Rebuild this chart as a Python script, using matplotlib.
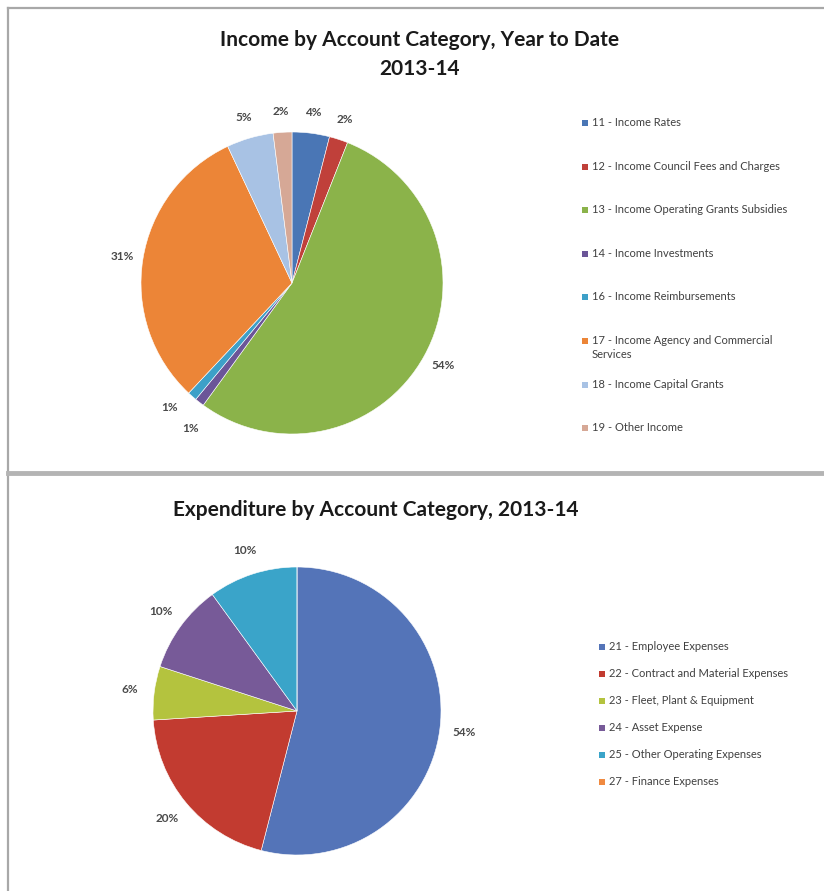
import matplotlib.pyplot as plt
from matplotlib.lines import Line2D
from matplotlib.patches import Rectangle

W, H = 824, 891

income_labels = [
    "11 - Income Rates",
    "12 - Income Council Fees and Charges",
    "13 - Income Operating Grants Subsidies",
    "14 - Income Investments",
    "16 - Income Reimbursements",
    "17 - Income Agency and Commercial\nServices",
    "18 - Income Capital Grants",
    "19 - Other Income",
]
income_pct = [4, 2, 54, 1, 1, 31, 5, 2]
income_colors = ["#4A76B5", "#C0403A", "#8BB34A", "#6B5598",
                 "#3DA0C8", "#EC8537", "#A8C2E4", "#D6A896"]

expense_labels = [
    "21 - Employee Expenses",
    "22 - Contract and Material Expenses",
    "23 - Fleet, Plant & Equipment",
    "24 - Asset Expense",
    "25 - Other Operating Expenses",
    "27 - Finance Expenses",
]
expense_pct = [54, 20, 6, 10, 10, 0]
expense_colors = ["#5474B8", "#C23B30", "#B4C33E", "#775A98",
                  "#3AA4C9", "#F08A40"]

plt.rcParams["font.family"] = ["Lato", "DejaVu Sans"]
TEXT = "#404040"


def fx(x):
    return x / W


def fy(y):
    return 1 - y / H


def pct_label(p):
    return f"{p:.0f}%" if p > 0 else ""


def draw_pie(fig, cx, cy, r, values, colors, pctdist):
    ax = fig.add_axes([fx(cx - r), fy(cy + r), 2 * r / W, 2 * r / H])
    _, _, autotexts = ax.pie(
        values,
        colors=colors,
        startangle=90,
        counterclock=False,
        autopct=pct_label,
        pctdistance=pctdist,
        wedgeprops=dict(edgecolor="white", linewidth=0.4),
        textprops=dict(fontsize=8.5, color="#4A4A4A", fontweight="bold"),
    )
    ax.set_xlim(-1, 1)
    ax.set_ylim(-1, 1)
    return ax, autotexts


def draw_legend(fig, x, y0, step, labels, colors):
    for i, (lab, col) in enumerate(zip(labels, colors)):
        y = y0 + i * step
        fig.add_artist(Rectangle((fx(x - 3), fy(y + 3)), 6 / W, 6 / H,
                                 transform=fig.transFigure,
                                 facecolor=col, edgecolor="none"))
        fig.text(fx(x + 7), fy(y - 6), lab, fontsize=8, color=TEXT,
                 va="top", ha="left", linespacing=1.3)


fig = plt.figure(figsize=(W / 100, H / 100), dpi=100)

# panel frames
frame = dict(color="#A8A8A8", transform=fig.transFigure)
fig.add_artist(Line2D([fx(8), 1], [fy(8), fy(8)], linewidth=1.6, **frame))
fig.add_artist(Line2D([fx(8), fx(8)], [fy(8), 0], linewidth=1.6, **frame))
fig.add_artist(Line2D([fx(8), 1], [fy(473), fy(473)], linewidth=3.5,
                      color="#B4B4B4", transform=fig.transFigure))

# income chart
fig.text(fx(420), fy(40), "Income by Account Category, Year to Date",
         ha="center", va="center", fontsize=15, fontweight="bold",
         color="#1A1A1A")
fig.text(fx(420), fy(69), "2013-14", ha="center", va="center",
         fontsize=15, fontweight="bold", color="#1A1A1A")
ax_in, in_texts = draw_pie(fig, 292, 283, 151, income_pct, income_colors, 1.14)
# the two 1% slices sit side by side; spread their labels apart a little
x3, y3 = in_texts[3].get_position()
in_texts[3].set_position((x3 + 0.03, y3 - 0.06))
x4, y4 = in_texts[4].get_position()
in_texts[4].set_position((x4 - 0.06, y4 + 0.03))
draw_legend(fig, 585, 123, 43.6, income_labels, income_colors)

# expenditure chart
fig.text(fx(376), fy(510), "Expenditure by Account Category, 2013-14",
         ha="center", va="center", fontsize=15, fontweight="bold",
         color="#1A1A1A")
draw_pie(fig, 297, 711, 144, expense_pct, expense_colors, 1.17)
draw_legend(fig, 602, 647, 27, expense_labels, expense_colors)

fig.savefig("out.png", dpi=100, facecolor="white")
